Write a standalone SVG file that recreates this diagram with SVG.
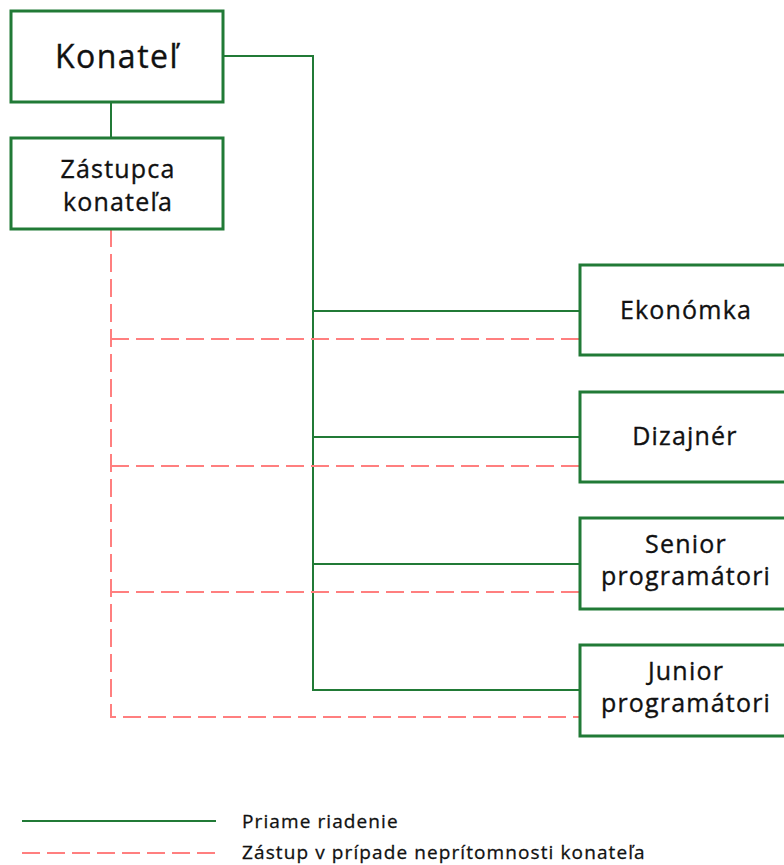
<svg xmlns="http://www.w3.org/2000/svg" width="784" height="865" viewBox="0 0 784 865">
  <style>
    .box { fill: #ffffff; stroke: #217a36; stroke-width: 3; }
    .lbl { font-family: "Open Sans", "Noto Sans", sans-serif; font-size: 25px; letter-spacing: 1.2px; fill: #111111; stroke: #111111; stroke-width: 0.35px; text-anchor: middle; }
    .big { font-size: 32px; letter-spacing: 1.5px; }
    .direct { fill: none; stroke: #217a36; stroke-width: 2; }
    .deputy { fill: none; stroke: #ff7f7f; stroke-width: 2; stroke-dasharray: 18 7; }
    .legend { font-family: "Open Sans", "Noto Sans", sans-serif; font-size: 19px; letter-spacing: 1.1px; fill: #111111; stroke: #111111; stroke-width: 0.3px; }
  </style>
  <rect width="784" height="865" fill="#ffffff"/>

  <g id="connectors">
    <!-- direct reporting lines -->
    <path class="direct" d="M111 102 V138"/>
    <path class="direct" d="M223 56 H313 V690 H580"/>
    <path class="direct" d="M313 311 H580 M313 437 H580 M313 564 H580"/>
    <!-- deputy substitution lines -->
    <path class="deputy" d="M111 229 V717 H580"/>
    <path class="deputy" d="M111 339 H580"/>
    <path class="deputy" d="M111 466 H580"/>
    <path class="deputy" d="M111 592 H580"/>
  </g>

  <g id="konatel">
    <rect class="box" x="11" y="11" width="212" height="91"/>
    <text class="lbl big" x="117" y="68">Konateľ</text>
  </g>
  <g id="zastupca">
    <rect class="box" x="11" y="138" width="212" height="91"/>
    <text class="lbl" x="118" y="178">Zástupca</text>
    <text class="lbl" x="118" y="211">konateľa</text>
  </g>
  <g id="ekonomka">
    <rect class="box" x="580" y="265" width="212" height="90"/>
    <text class="lbl" x="686" y="319">Ekonómka</text>
  </g>
  <g id="dizajner">
    <rect class="box" x="580" y="392" width="212" height="90"/>
    <text class="lbl" x="685" y="445">Dizajnér</text>
  </g>
  <g id="senior">
    <rect class="box" x="580" y="518" width="212" height="91"/>
    <text class="lbl" x="686" y="553">Senior</text>
    <text class="lbl" x="686" y="585">programátori</text>
  </g>
  <g id="junior">
    <rect class="box" x="580" y="645" width="212" height="91"/>
    <text class="lbl" x="686" y="680">Junior</text>
    <text class="lbl" x="686" y="712">programátori</text>
  </g>

  <g id="legend">
    <line class="direct" x1="22" y1="821" x2="216" y2="821"/>
    <text class="legend" x="242" y="828">Priame riadenie</text>
    <line class="deputy" x1="22" y1="853" x2="216" y2="853"/>
    <text class="legend" x="242" y="859">Zástup v prípade neprítomnosti konateľa</text>
  </g>
</svg>
